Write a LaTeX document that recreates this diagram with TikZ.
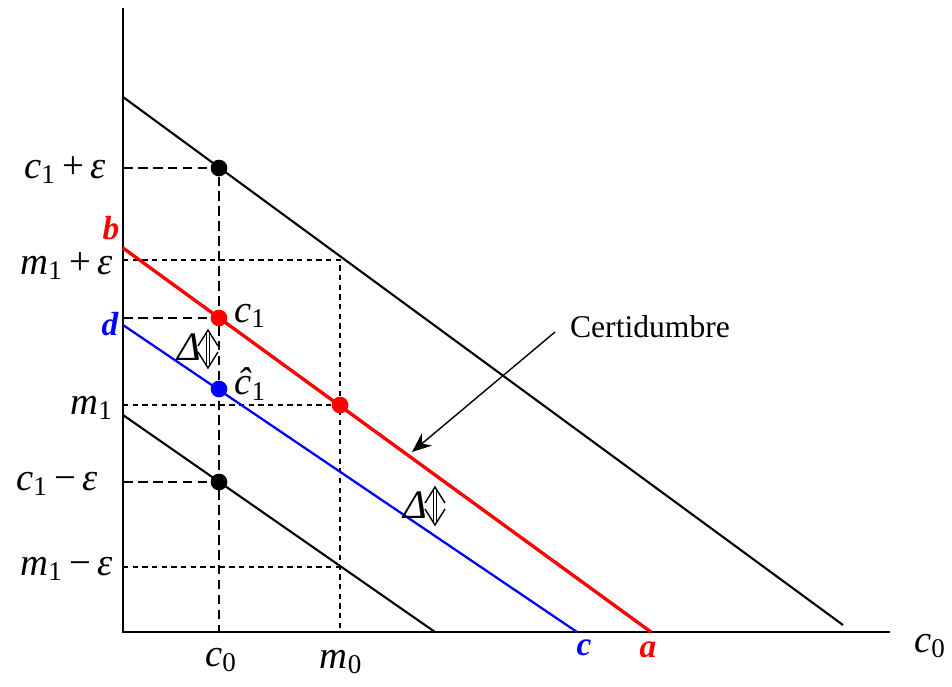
\documentclass[tikz,border=0pt]{standalone}
\usepackage{fontspec}
\setmainfont{Liberation Serif}
\usetikzlibrary{positioning, calc, arrows.meta}

\newcommand{\vbl}[2]{\textit{#1}\textsubscript{#2}}
\tikzset{
  lab/.style={font=\fontsize{22}{24}\selectfont, inner ysep=1pt},
  tag/.style={font=\fontsize{19}{21}\selectfont\bfseries\itshape, inner sep=1pt},
  cdash/.style={line width=1pt, dash pattern=on 5.5pt off 3pt},
  mdash/.style={line width=1pt, dash pattern=on 3pt off 2.5pt},
  dot/.style={circle, fill, inner sep=0pt, minimum size=9.5pt},
  dlab/.style={font=\fontsize{23}{25}\selectfont\itshape}
}
% vertical double arrow with open heads
\newcommand{\updelta}[3]{%
  \draw[line width=0.7pt] (#1-1.6,#2+2) -- (#1-1.6,#3-2) (#1+1.6,#2+2) -- (#1+1.6,#3-2);
  \draw[line width=0.8pt] (#1-10,#2+16) -- (#1,#2) -- (#1+10,#2+16);
  \draw[line width=0.8pt] (#1-10,#3-16) -- (#1,#3) -- (#1+10,#3-16);}

\begin{document}
\begin{tikzpicture}[x=0.02cm, y=-0.02cm, >=stealth]
    \useasboundingbox (0,0) rectangle (952,686);

    % axes
    \coordinate (O) at (123,632);
    \coordinate (ytop) at (123,8);
    \coordinate (xend) at (890,632);
    \draw[line width=1.2pt] (ytop) -- (O) -- (xend);
    \node[lab] (xlab) at (930,646) {\vbl{c}{0}};

    % budget lines
    \coordinate (top1) at (123,97);   \coordinate (top2) at (843,625);
    \coordinate (b) at (123,248);     \coordinate (a) at (651,632);
    \coordinate (d) at (123,325);     \coordinate (c) at (577,632);
    \coordinate (low1) at (123,415);  \coordinate (low2) at (435,632);

    % points
    \coordinate (P1) at (219,168);
    \coordinate (P2) at (219,318);
    \coordinate (P3) at (219,389);
    \coordinate (P4) at (219,482);
    \coordinate (P5) at (340,405);

    % guide lines
    \draw[cdash] (123,168) -- (P1) -- (219,632);
    \draw[cdash] (123,318) -- (P2);
    \draw[cdash] (123,482) -- (P4);
    \draw[mdash] (123,260) -- (340,260) -- (340,632);
    \draw[mdash] (123,405) -- (P5);
    \draw[mdash] (123,567) -- (340,567);

    \draw[line width=1.2pt] (top1) -- (top2);
    \draw[line width=1.2pt] (low1) -- (low2);
    \draw[blue, line width=1.3pt] (d) -- (c);
    \draw[red, line width=1.9pt] (b) -- (a);

    \node[dot, black] at (P1) {};
    \node[dot, black] at (P4) {};
    \node[dot, red] at (P2) {};
    \node[dot, red] at (P5) {};
    \node[dot, blue] at (P3) {};

    % labels
    \node[lab, anchor=east] (l1) at (112,170) {\vbl{c}{1}\,+\,\textit{ε}};
    \node[lab, anchor=east] (l2) at (119,266) {\vbl{m}{1}\,+\,\textit{ε}};
    \node[lab, anchor=east] (l3) at (119,408) {\vbl{m}{1}};
    \node[lab, anchor=east] (l4) at (104,484) {\vbl{c}{1}\,−\,\textit{ε}};
    \node[lab, anchor=east] (l5) at (119,569) {\vbl{m}{1}\,−\,\textit{ε}};
    \node[lab] (lc0) at (221,660) {\vbl{c}{0}};
    \node[lab] (lm0) at (341,662) {\vbl{m}{0}};
    \node[lab, anchor=west] (lc1) at (228,316) {\vbl{c}{1}};
    \node[lab, anchor=west] (lch) at (228,384) {\vbl{ĉ}{1}};

    \node[tag, red] (tb) at (111,228) {b};
    \node[tag, blue] (td) at (110,324) {d};
    \node[tag, blue] (tc) at (584,648) {c};
    \node[tag, red] (ta) at (648,650) {a};

    % Delta markers
    \node[dlab] (D1) at (189,347) {Δ};
    \updelta{208}{330}{368}
    \node[dlab] (D2) at (415,505) {Δ};
    \updelta{435}{487}{525}

    % annotation
    \node[font=\fontsize{18}{20}\selectfont] (cert) at (650,327) {Certidumbre};
    \coordinate (tip) at (412,452);
    \draw[thick, -{Stealth[length=11pt, width=9pt]}] (555,332) -- (tip);
\end{tikzpicture}
\end{document}
